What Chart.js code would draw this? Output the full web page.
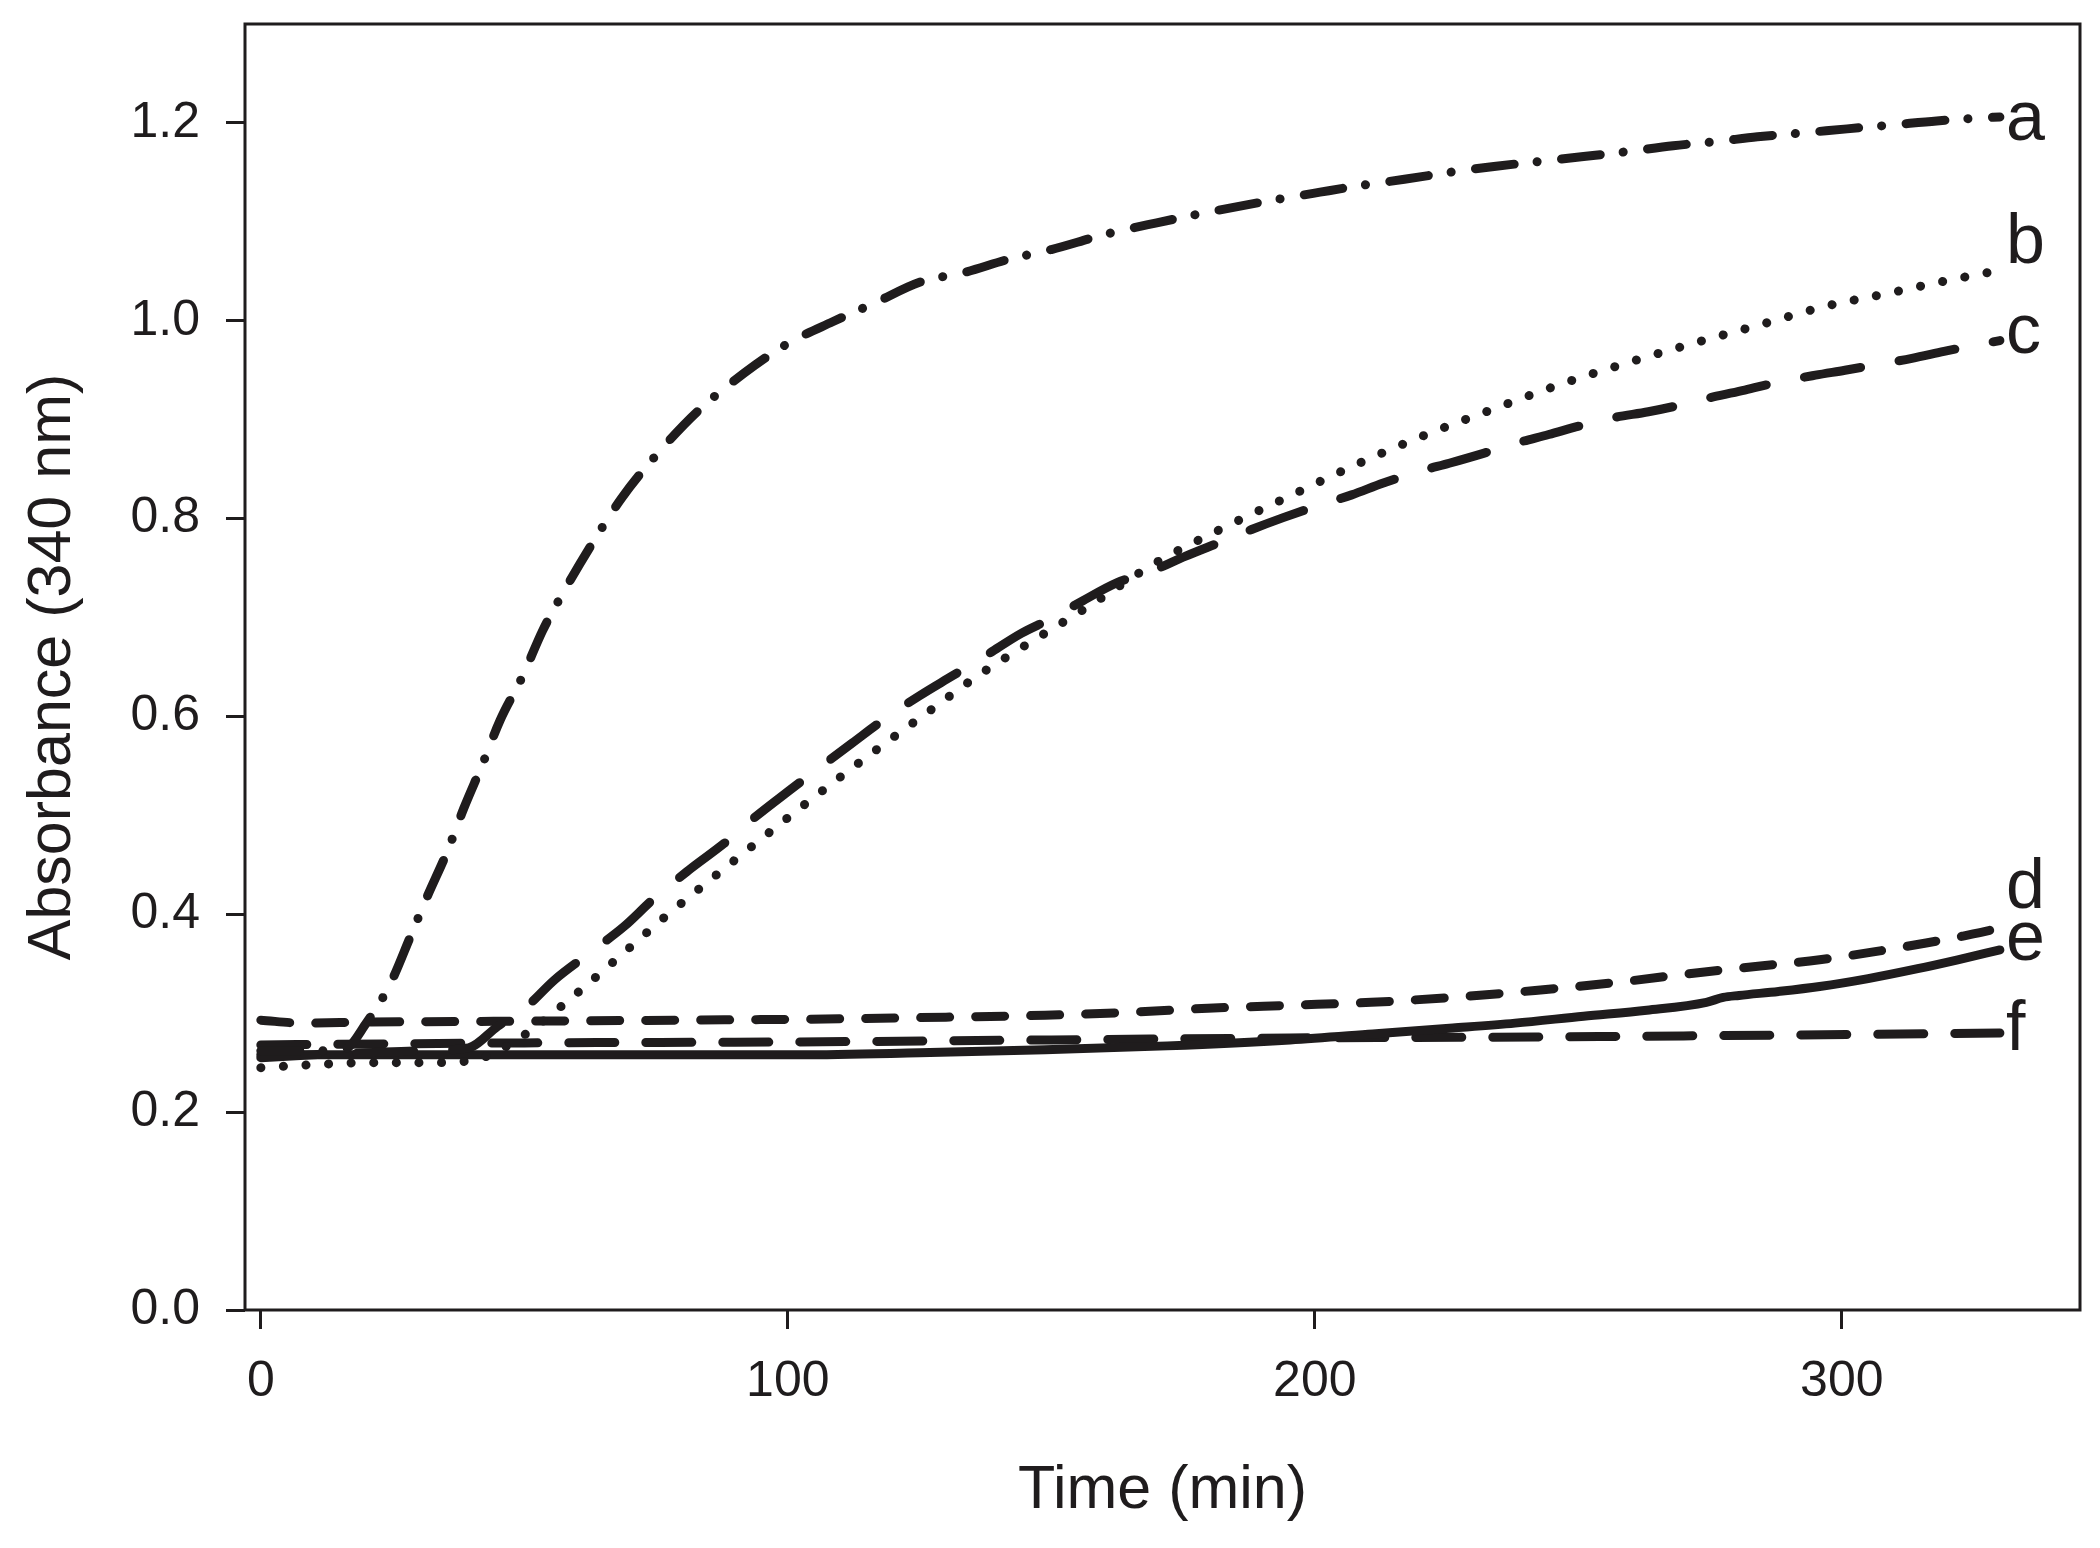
<!DOCTYPE html>
<html>
<head>
<meta charset="utf-8">
<script src="https://cdn.jsdelivr.net/npm/chart.js@4.4.1/dist/chart.umd.min.js"></script>
<style>html,body{margin:0;padding:0;background:#fff}canvas{display:block}</style>
</head>
<body>
<canvas id="chart" width="2100" height="1548"></canvas>
<script>
// ---- data ----
const seriesNames = ['a', 'b', 'c', 'd', 'e', 'f'];

const timeA = [0,10,16,20,24.5,28.5,31.5,35.5,38.5,42,45.4,49.7,53.5,58,62.9,68.5,75,83,91.7,100,108.5,116.5,125,133.6,141.8,150,160,170,180,190,201,209,217,225.5,234,242.5,251,259.3,268,276,284,292.8,301,309.7,318,326.2,330];
const absA  = [0.262,0.262,0.264,0.29,0.329,0.379,0.417,0.465,0.507,0.551,0.596,0.641,0.687,0.731,0.775,0.821,0.864,0.909,0.947,0.977,0.999,1.018,1.039,1.049,1.062,1.072,1.087,1.099,1.110,1.120,1.130,1.137,1.143,1.150,1.156,1.161,1.166,1.171,1.177,1.181,1.186,1.190,1.194,1.198,1.202,1.205,1.206];

const timeB = [0,10,20,30,40,45,50.8,59.5,68.2,76.6,85.1,93.5,102,110.5,119,127.5,136,144.2,157,169.7,182.4,195.3,208,220.7,233.5,246.2,259,271.7,284.5,297.2,309,318.5,327,330];
const absB  = [0.245,0.248,0.25,0.25,0.252,0.262,0.281,0.318,0.358,0.397,0.434,0.470,0.506,0.541,0.575,0.608,0.641,0.669,0.711,0.755,0.790,0.823,0.855,0.884,0.910,0.935,0.957,0.977,0.996,1.015,1.028,1.039,1.048,1.051];

const timeC = [0,10,20,30,39.4,45,50.3,55.8,62.4,69,74.6,81.3,88,93.5,100,106.7,112.2,118.5,125,131.2,137.7,144.3,150,156,162.4,169,175.5,182,188,194,200.5,207,213,220,225.5,232,238,244.4,250.5,256.6,263.3,269.5,275.6,281.6,288,295,300.6,307,313.3,319.4,325,330];
const absC  = [0.255,0.258,0.26,0.262,0.265,0.287,0.306,0.334,0.361,0.388,0.416,0.445,0.472,0.497,0.524,0.551,0.573,0.598,0.621,0.641,0.662,0.684,0.699,0.717,0.735,0.747,0.762,0.776,0.789,0.801,0.813,0.824,0.836,0.848,0.856,0.866,0.876,0.885,0.894,0.902,0.908,0.915,0.923,0.930,0.938,0.945,0.950,0.956,0.962,0.969,0.975,0.980];

const timeD = [0,8,20,50,80,103.8,130,148.8,165,179.7,195,210.7,226,241.8,257,272.7,285,295.8,306,316,323,330];
const absD  = [0.293,0.290,0.291,0.292,0.293,0.294,0.296,0.298,0.301,0.305,0.308,0.311,0.316,0.323,0.331,0.341,0.348,0.354,0.362,0.371,0.378,0.386];

const timeE = [0,25,50,75,102.3,125,148.8,172,195.3,211,226.2,238,251,263,274.3,277.5,280.5,288,295.8,305,314.4,322,330];
const absE  = [0.258,0.258,0.258,0.258,0.258,0.260,0.263,0.267,0.273,0.279,0.285,0.290,0.297,0.303,0.311,0.316,0.318,0.322,0.327,0.335,0.345,0.354,0.364];

const timeF = [0,50,102.3,150,195.3,241.8,290,330];
const absF  = [0.268,0.270,0.271,0.273,0.275,0.276,0.278,0.280];

const xTicks = [0, 100, 200, 300];
const yTicks = [0.0, 0.2, 0.4, 0.6, 0.8, 1.0, 1.2];

// ---- styles ----
const INK = '#1f1c1d';
const FONT = "'Liberation Sans', Arial, Helvetica, sans-serif";
const dashes = [[39, 23, 0.1, 24.5], [0.1, 22.5], [57, 39], [29, 26], [], [46, 31]];
const labelDy = [23, -7, 12, -20, 10, 17];

const seriesTimes = [timeA, timeB, timeC, timeD, timeE, timeF];
const seriesAbs = [absA, absB, absC, absD, absE, absF];

function toPoints(t, v) { return t.map((x, i) => ({ x: x, y: v[i] })); }

const datasets = seriesNames.map((name, i) => ({
  label: name,
  data: toPoints(seriesTimes[i], seriesAbs[i]),
  borderColor: INK,
  borderWidth: 9,
  borderDash: dashes[i],
  borderCapStyle: 'round',
  borderJoinStyle: 'round',
  pointRadius: 0,
  fill: false,
  cubicInterpolationMode: 'monotone'
}));

const framePlugin = {
  id: 'frame',
  beforeDatasetsDraw(chart) {
    const { ctx, chartArea: a } = chart;
    ctx.save();
    ctx.strokeStyle = INK;
    ctx.lineWidth = 3;
    ctx.strokeRect(a.left, a.top, a.right - a.left, a.bottom - a.top);
    ctx.restore();
  }
};

const endLabels = {
  id: 'endLabels',
  afterDatasetsDraw(chart) {
    const ctx = chart.ctx;
    ctx.save();
    ctx.fillStyle = INK;
    ctx.font = '70px ' + FONT;
    ctx.textAlign = 'left';
    ctx.textBaseline = 'alphabetic';
    chart.data.datasets.forEach((ds, i) => {
      const meta = chart.getDatasetMeta(i);
      const last = meta.data[meta.data.length - 1];
      ctx.fillText(seriesNames[i], last.x + 6, last.y + labelDy[i]);
    });
    ctx.restore();
  }
};

function zeroPad(s) { s.paddingLeft = 0; s.paddingRight = 0; s.paddingTop = 0; s.paddingBottom = 0; }

new Chart(document.getElementById('chart'), {
  type: 'line',
  data: { datasets: datasets },
  plugins: [framePlugin, endLabels],
  options: {
    responsive: false,
    animation: false,
    devicePixelRatio: 1,
    layout: { padding: { top: 24, right: 20, bottom: 0, left: 0 } },
    plugins: { legend: { display: false }, tooltip: { enabled: false } },
    scales: {
      x: {
        type: 'linear',
        min: -3,
        max: 345.2,
        afterBuildTicks: s => { s.ticks = xTicks.map(v => ({ value: v })); },
        afterFit: s => { s.height = 238; zeroPad(s); },
        grid: { drawOnChartArea: false, drawTicks: true, tickLength: 19, tickWidth: 3, tickColor: INK, color: INK },
        border: { display: false },
        ticks: { color: INK, font: { family: FONT, size: 50 }, padding: 23.5, maxRotation: 0, autoSkip: false, callback: v => String(v) },
        title: { display: true, text: 'Time (min)', color: INK, font: { family: FONT, size: 61 }, padding: { top: 0, bottom: 20.4 } }
      },
      y: {
        type: 'linear',
        min: 0,
        max: 1.3,
        afterBuildTicks: s => { s.ticks = yTicks.map(v => ({ value: v })); },
        afterFit: s => { s.width = 245; zeroPad(s); },
        grid: { drawOnChartArea: false, drawTicks: true, tickLength: 19, tickWidth: 3, tickColor: INK, color: INK },
        border: { display: false },
        ticks: { color: INK, font: { family: FONT, size: 50 }, padding: 26, autoSkip: false, callback: v => Number(v).toFixed(1) },
        title: { display: true, text: 'Absorbance (340 nm)', color: INK, font: { family: FONT, size: 61 }, padding: { top: 16.4, bottom: 0 } }
      }
    }
  }
});
</script>
</body>
</html>
